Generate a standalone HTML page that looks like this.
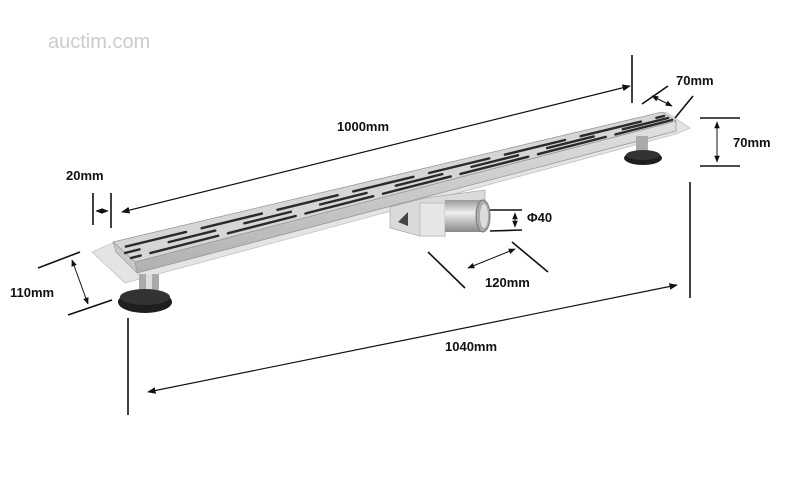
<!DOCTYPE html>
<html><head><meta charset="utf-8"><style>
html,body{margin:0;padding:0;background:#fff;width:800px;height:484px;overflow:hidden}
svg text{font-family:"Liberation Sans",sans-serif;font-weight:bold;font-size:13px;fill:#111}
</style></head><body>
<svg width="800" height="484" viewBox="0 0 800 484" xmlns="http://www.w3.org/2000/svg">
<defs>
<marker id="a" viewBox="0 0 10 10" refX="9" refY="5" markerWidth="7" markerHeight="7" orient="auto-start-reverse"><path d="M0,1L10,5L0,9z" fill="#111"/></marker>
<linearGradient id="g" x1="0" y1="0" x2="0" y2="1"><stop offset="0" stop-color="#e0e0e0"/><stop offset="1" stop-color="#b0b0b0"/></linearGradient>
<linearGradient id="p" x1="0" y1="0" x2="0" y2="1"><stop offset="0" stop-color="#999"/><stop offset=".4" stop-color="#eee"/><stop offset="1" stop-color="#888"/></linearGradient>
</defs>
<text x="48" y="48" style="font-weight:normal;font-size:20px;fill:#ccc">auctim.com</text>
<!-- flange -->
<polygon points="92,252 110,244 666,112 690,128 676,134 125,283" fill="#e4e4e4" stroke="#c4c4c4" stroke-width="0.8"/>
<!-- outlet box and pipe -->
<polygon points="390,207 425,198 485,190 485,200 445,205 445,236 420,236 390,228" fill="#dadada" stroke="#aaa" stroke-width="0.7"/>
<rect x="420" y="203" width="25" height="33" fill="#e6e6e6" stroke="#aaa" stroke-width="0.6"/>
<polygon points="398,222 408,212 408,226" fill="#444"/>
<rect x="445" y="200" width="38" height="32" fill="url(#p)"/>
<ellipse cx="483" cy="216" rx="7" ry="16" fill="#aaa" stroke="#777"/>
<ellipse cx="484" cy="216" rx="4" ry="12" fill="#ddd"/>
<!-- front face -->
<polygon points="135,262 676,121 676,131 137,273" fill="url(#g)" stroke="#999" stroke-width="0.8"/>
<!-- top face -->
<polygon points="113,242 662,112 676,121 135,262" fill="#d6d6d6" stroke="#999" stroke-width="0.8"/>
<polygon points="113,242 135,262 137,273 116,252" fill="#c8c8c8" stroke="#999" stroke-width="0.6"/>
<g stroke="#2a2a2a" stroke-width="2.4" stroke-linecap="round">
<line x1="120" y1="248" x2="664" y2="116" stroke-dasharray="62 16" stroke-dashoffset="-6"/>
<line x1="125" y1="253" x2="668" y2="118" stroke-dasharray="48 30" stroke-dashoffset="-45"/>
<line x1="131" y1="258" x2="672" y2="120" stroke-dasharray="70 10" stroke-dashoffset="-20"/>
</g>
<!-- legs -->
<rect x="139" y="274" width="20" height="16" fill="#aaa"/>
<rect x="146" y="274" width="6" height="16" fill="#ddd"/>
<ellipse cx="145" cy="302" rx="27" ry="11" fill="#1e1e1e"/>
<ellipse cx="145" cy="297" rx="25" ry="8" fill="#333"/>
<rect x="636" y="136" width="12" height="16" fill="#aaa"/>
<ellipse cx="643" cy="158" rx="19" ry="7" fill="#1e1e1e"/>
<ellipse cx="643" cy="155" rx="17" ry="5" fill="#333"/>
<!-- dimension lines -->
<g stroke="#111" stroke-width="1.6" fill="none">
<line x1="632" y1="55" x2="632" y2="103"/>
<line x1="122" y1="212" x2="630" y2="86" marker-start="url(#a)" marker-end="url(#a)" stroke-width="1.2"/>
<line x1="93" y1="193" x2="93" y2="225"/><line x1="111" y1="193" x2="111" y2="228"/>
<line x1="96" y1="211" x2="108" y2="211" marker-start="url(#a)" marker-end="url(#a)" stroke-width="1"/>
<line x1="38" y1="268" x2="80" y2="252"/><line x1="68" y1="315" x2="112" y2="300"/>
<line x1="72" y1="260" x2="88" y2="304" marker-start="url(#a)" marker-end="url(#a)" stroke-width="1"/>
<line x1="128" y1="318" x2="128" y2="415"/><line x1="690" y1="182" x2="690" y2="298"/>
<line x1="148" y1="392" x2="677" y2="285" marker-start="url(#a)" marker-end="url(#a)" stroke-width="1.2"/>
<line x1="642" y1="104" x2="668" y2="86"/><line x1="675" y1="118" x2="693" y2="96"/>
<line x1="652" y1="96" x2="672" y2="106" marker-start="url(#a)" marker-end="url(#a)" stroke-width="1"/>
<line x1="700" y1="118" x2="740" y2="118"/><line x1="700" y1="166" x2="740" y2="166"/>
<line x1="717" y1="122" x2="717" y2="162" marker-start="url(#a)" marker-end="url(#a)" stroke-width="1"/>
<line x1="490" y1="210" x2="522" y2="210"/><line x1="490" y1="231" x2="522" y2="230"/>
<line x1="515" y1="213" x2="515" y2="227" marker-start="url(#a)" marker-end="url(#a)" stroke-width="1"/>
<line x1="428" y1="252" x2="465" y2="288"/><line x1="512" y1="242" x2="548" y2="272"/>
<line x1="468" y1="268" x2="515" y2="249" marker-start="url(#a)" marker-end="url(#a)" stroke-width="1"/>
</g>
<text x="337" y="131">1000mm</text>
<text x="676" y="85">70mm</text>
<text x="733" y="147">70mm</text>
<text x="66" y="180">20mm</text>
<text x="527" y="222">Φ40</text>
<text x="485" y="287">120mm</text>
<text x="10" y="297">110mm</text>
<text x="445" y="351">1040mm</text>
</svg>
</body></html>
